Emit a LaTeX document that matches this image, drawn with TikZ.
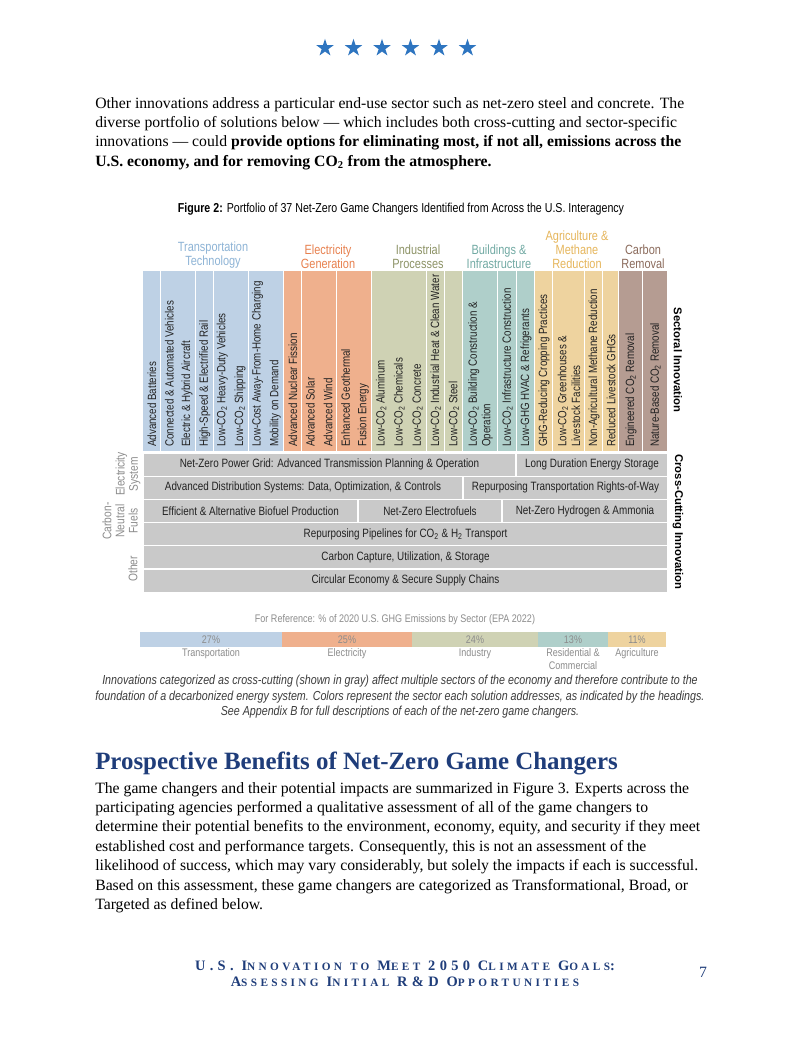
\documentclass[tikz,border=0pt]{standalone}
\usepackage{fontspec}
\setmainfont{Liberation Serif}
\newfontfamily\narrowsf[FakeStretch=0.82]{Liberation Sans}
\newfontfamily\plainsf{Liberation Sans}
\newfontfamily\footfont[LetterSpace=30]{Liberation Serif}
\usetikzlibrary{shapes.geometric, positioning}

\definecolor{starblue}{HTML}{2E75C0}
\definecolor{headblue}{HTML}{1F3D7A}
\definecolor{transhead}{HTML}{8EB4D6}
\definecolor{elechead}{HTML}{E8814F}
\definecolor{indhead}{HTML}{8D9366}
\definecolor{bldhead}{HTML}{72AAA4}
\definecolor{agrhead}{HTML}{E6B65C}
\definecolor{carbhead}{HTML}{8B6B5C}
\definecolor{transfill}{HTML}{BED1E5}
\definecolor{elecfill}{HTML}{EFB08D}
\definecolor{indfill}{HTML}{CFD2B4}
\definecolor{bldfill}{HTML}{AFCFCA}
\definecolor{agrfill}{HTML}{EED39F}
\definecolor{carbfill}{HTML}{B59C92}
\definecolor{rowgray}{HTML}{C9C9C9}
\definecolor{textgray}{HTML}{222222}
\definecolor{labelgray}{HTML}{8C8C8C}
\definecolor{captiongray}{HTML}{3C3C3C}

\newcommand{\COtwo}{CO\textsubscript{2}}
\newcommand{\smc}[1]{{\fontsize{8.6}{9}\selectfont #1}}

\begin{document}
\begin{tikzpicture}[
  x=0.7631pt, y=-0.7631pt,
  flagstar/.style={shape=star, star points=5, star point ratio=2.6,
                   fill=starblue, inner sep=0pt, minimum size=14pt},
  coltext/.style={rotate=90, anchor=west, align=left, inner sep=0pt,
                  text=textgray, font=\narrowsf\fontsize{9.1}{10.4}\selectfont},
  rowtext/.style={inner sep=0pt, text=textgray,
                  font=\narrowsf\fontsize{9.2}{10}\selectfont},
  head/.style={anchor=south, align=center, inner sep=0pt,
               font=\narrowsf\fontsize{10.2}{10.7}\selectfont},
  side/.style={rotate=90, align=center, inner sep=0pt, text=labelgray,
               font=\narrowsf\fontsize{9.5}{10}\selectfont},
  tag/.style={rotate=-90, inner sep=0pt,
              font=\plainsf\bfseries\fontsize{8.6}{9}\selectfont},
  barlabel/.style={anchor=north, align=center, inner sep=0pt, text=labelgray,
                   font=\narrowsf\fontsize{8.4}{10.2}\selectfont},
]
\useasboundingbox[fill=white] (0,0) rectangle (802,1037);

%% stars
\foreach \i in {0,...,5}
  \node[flagstar] (star\i) at (325+28.5*\i,48) {};

%% intro paragraph
\node[anchor=north west, inner sep=0pt, align=left,
      font=\fontsize{12}{14.8}\selectfont] (intro) at (95,97)
  {Other innovations address a particular end-use sector such as net-zero steel and concrete. The\\
   diverse portfolio of solutions below --- which includes both cross-cutting and sector-specific\\
   innovations --- could \textbf{provide options for eliminating most, if not all, emissions across the}\\
   \textbf{U.S. economy, and for removing CO\textsubscript{2} from the atmosphere.}};

%% figure title
\node[font=\narrowsf\fontsize{9.9}{11}\selectfont] (figtitle) at (401,209)
  {\textbf{Figure 2:} Portfolio of 37 Net-Zero Game Changers Identified from Across the U.S. Interagency};

%% sector headings
\node[head, text=transhead] (h-trans) at (213,269) {Transportation\\Technology};
\node[head, text=elechead]  (h-elec)  at (328,269) {Electricity\\Generation};
\node[head, text=indhead]   (h-ind)   at (418,269) {Industrial\\Processes};
\node[head, text=bldhead]   (h-bld)   at (499,269) {Buildings \&\\Infrastructure};
\node[head, text=agrhead]   (h-agr)   at (577,269) {Agriculture \&\\Methane\\Reduction};
\node[head, text=carbhead]  (h-carb)  at (643,269) {Carbon\\Removal};

%% sectoral columns
\foreach \xa/\xb/\col/\txt [count=\i] in {
  143/160.6/transfill/Advanced Batteries,
  160.6/178.25/transfill/Connected \& Automated Vehicles,
  178.25/195.9/transfill/Electric \& Hybrid Aircraft,
  195.9/213.5/transfill/High-Speed \& Electrified Rail,
  213.5/231.1/transfill/Low-\COtwo{} Heavy-Duty Vehicles,
  231.1/248.75/transfill/Low-\COtwo{} Shipping,
  248.75/266.4/transfill/Low-Cost Away-From-Home Charging,
  266.4/284/transfill/Mobility on Demand,
  284/301.6/elecfill/Advanced Nuclear Fission,
  301.6/319.2/elecfill/Advanced Solar,
  319.2/336.8/elecfill/Advanced Wind,
  336.8/354.4/elecfill/Enhanced Geothermal,
  354.4/372/elecfill/Fusion Energy,
  372/390.2/indfill/Low-\COtwo{} Aluminum,
  390.2/408.4/indfill/Low-\COtwo{} Chemicals,
  408.4/426.6/indfill/Low-\COtwo{} Concrete,
  426.6/444.8/indfill/Low-\COtwo{} Industrial Heat \& Clean Water,
  444.8/463/indfill/Low-\COtwo{} Steel,
  463/498/bldfill/{Low-\COtwo{} Building Construction \&\\Operation},
  498/517/bldfill/Low-\COtwo{} Infrastructure Construction,
  517/535/bldfill/Low-GHG HVAC \& Refrigerants,
  535/553/agrfill/GHG-Reducing Cropping Practices,
  553/585/agrfill/{Low-\COtwo{} Greenhouses \&\\Livestock Facilities},
  585/603/agrfill/Non-Agricultural Methane Reduction,
  603/619/agrfill/Reduced Livestock GHGs,
  619/643/carbfill/Engineered \COtwo{} Removal,
  643/668/carbfill/Nature-Based \COtwo{} Removal}
{
  \fill[\col] (\xa,271) rectangle (\xb,451);
  \draw[white, line width=0.8pt] (\xb,271) -- (\xb,451);
  \node[coltext] (col\i) at ({(\xa+\xb)/2},447) {\txt};
}

%% cross-cutting rows
\foreach \xa/\xb/\ya/\txt [count=\j] in {
  143/516/453/Net-Zero Power Grid: Advanced Transmission Planning \& Operation,
  516/668/453/Long Duration Energy Storage,
  143/463/476.2/{Advanced Distribution Systems: Data, Optimization, \& Controls},
  463/668/476.2/Repurposing Transportation Rights-of-Way,
  143/358/499.4/Efficient \& Alternative Biofuel Production,
  358/502/499.4/Net-Zero Electrofuels,
  502/668/499.4/Net-Zero Hydrogen \& Ammonia,
  143/668/522.6/Repurposing Pipelines for \COtwo{} \& H\textsubscript{2} Transport,
  143/668/545.8/{Carbon Capture, Utilization, \& Storage},
  143/668/569/Circular Economy \& Secure Supply Chains}
{
  \filldraw[fill=rowgray, draw=white, line width=0.8pt] (\xa,\ya) rectangle (\xb,\ya+23.2);
  \node[rowtext] (row\j) at ({(\xa+\xb)/2},\ya+11.6) {\txt};
}

%% row group labels
\node[side] (lab-elec)  at (128,474) {Electricity\\System};
\node[side] (lab-fuel)  at (120,521) {Carbon-\\Neutral\\Fuels};
\node[side] (lab-other) at (133,569) {Other};

%% side tags
\node[tag] (sect)  at (678,360) {Sectoral Innovation};
\node[tag] (cross) at (678,522) {Cross-Cutting Innovation};

%% emissions reference bar
\node[barlabel, anchor=center] (refnote) at (395,620)
  {For Reference: \% of 2020 U.S. GHG Emissions by Sector (EPA 2022)};
\foreach \xa/\xb/\col/\pct/\lab [count=\k] in {
  140/282/transfill/27\%/Transportation,
  282/412/elecfill/25\%/Electricity,
  412/538/indfill/24\%/Industry,
  538/608/bldfill/13\%/{Residential \&\\Commercial},
  608/666/agrfill/11\%/Agriculture}
{
  \fill[\col] (\xa,632) rectangle (\xb,647);
  \node[barlabel, anchor=center] (pct\k) at ({(\xa+\xb)/2},639.5) {\pct};
  \node[barlabel] (sec\k) at ({(\xa+\xb)/2},648) {\lab};
}

%% caption
\node[align=center, inner sep=0pt, text=captiongray,
      font=\narrowsf\itshape\fontsize{9.95}{11.9}\selectfont] (caption) at (400,697)
  {Innovations categorized as cross-cutting (shown in gray) affect multiple sectors of the economy and therefore contribute to the\\
   foundation of a decarbonized energy system. Colors represent the sector each solution addresses, as indicated by the headings.\\
   See Appendix B for full descriptions of each of the net-zero game changers.};

%% section heading and body
\node[anchor=base west, inner sep=0pt, text=headblue,
      font=\bfseries\fontsize{19}{22}\selectfont] (heading) at (95,769)
  {Prospective Benefits of Net-Zero Game Changers};
\node[anchor=north west, inner sep=0pt, align=left,
      font=\fontsize{12}{14.8}\selectfont] (body) at (95,782)
  {The game changers and their potential impacts are summarized in Figure 3. Experts across the\\
   participating agencies performed a qualitative assessment of all of the game changers to\\
   determine their potential benefits to the environment, economy, equity, and security if they meet\\
   established cost and performance targets. Consequently, this is not an assessment of the\\
   likelihood of success, which may vary considerably, but solely the impacts if each is successful.\\
   Based on this assessment, these game changers are categorized as Transformational, Broad, or\\
   Targeted as defined below.};

%% footer
\node[align=center, inner sep=0pt, text=headblue,
      font=\footfont\bfseries\fontsize{11}{12.2}\selectfont] (footer) at (405,974)
  {U.S. I\smc{NNOVATION} \smc{TO} M\smc{EET} 2050 C\smc{LIMATE} G\smc{OALS}:\\
   A\smc{SSESSING} I\smc{NITIAL} R\&D O\smc{PPORTUNITIES}};
\node[font=\fontsize{12}{14}\selectfont, text=headblue] (pagenum) at (703,972) {7};

\end{tikzpicture}
\end{document}
